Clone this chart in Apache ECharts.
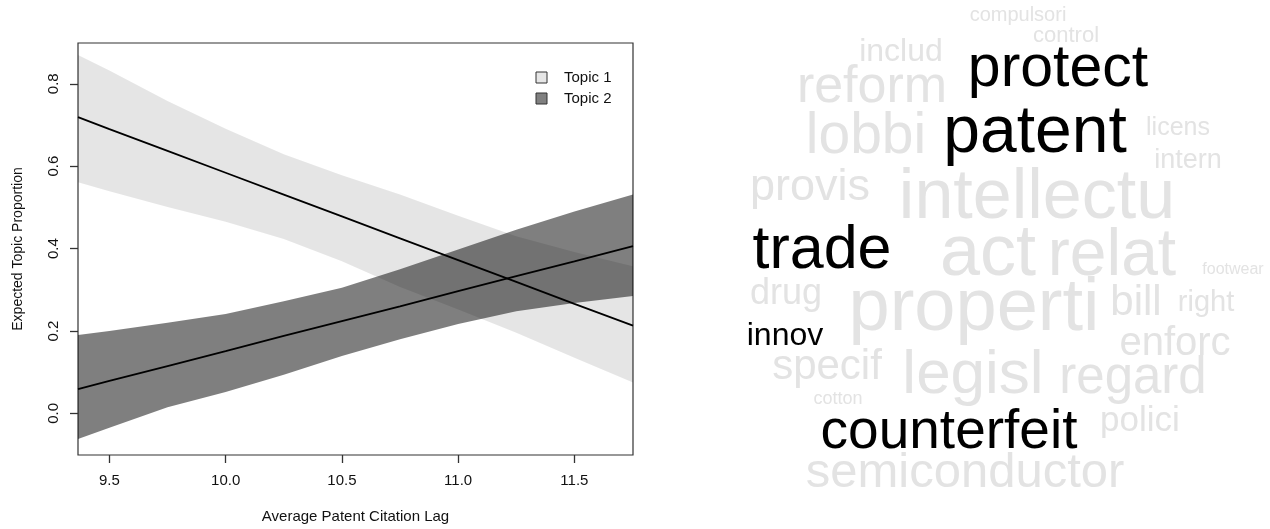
<!DOCTYPE html>
<html>
<head>
<meta charset="utf-8">
<title>Topic proportion by citation lag</title>
<script src="https://cdn.jsdelivr.net/npm/echarts@6/dist/echarts.min.js"></script>
<style>
  html, body { margin: 0; padding: 0; background: #ffffff; }
  #chart { width: 1270px; height: 529px; }
</style>
</head>
<body>
<div id="chart"></div>
<script>
// ---- Estimated effect of citation lag on topic prevalence ----
const lagValues   = [9.365, 9.5, 9.75, 10.0, 10.25, 10.5, 10.75, 11.0, 11.25, 11.5, 11.752];

const topic1Mean  = [0.719, 0.690, 0.637, 0.584, 0.531, 0.478, 0.425, 0.372, 0.319, 0.266, 0.213];
const topic1Upper = [0.870, 0.832, 0.758, 0.691, 0.629, 0.578, 0.531, 0.480, 0.430, 0.392, 0.357];
const topic1Lower = [0.561, 0.539, 0.501, 0.465, 0.423, 0.369, 0.307, 0.252, 0.196, 0.135, 0.075];

const topic2Mean  = [0.059, 0.079, 0.115, 0.151, 0.188, 0.224, 0.260, 0.297, 0.333, 0.369, 0.406];
const topic2Upper = [0.190, 0.200, 0.220, 0.241, 0.272, 0.305, 0.350, 0.398, 0.446, 0.490, 0.531];
const topic2Lower = [-0.062, -0.035, 0.015, 0.052, 0.094, 0.139, 0.180, 0.217, 0.248, 0.268, 0.285];

const xTicks = [9.5, 10.0, 10.5, 11.0, 11.5];
const yTicks = [0.0, 0.2, 0.4, 0.6, 0.8];
const topicNames = ['Topic 1', 'Topic 2'];

// ---- Word cloud: stems and relative frequencies ----
const cloudWords = ['compulsori', 'control', 'includ', 'protect', 'reform', 'lobbi', 'patent',
  'licens', 'intern', 'provis', 'intellectu', 'trade', 'act', 'relat', 'footwear', 'drug',
  'properti', 'bill', 'right', 'innov', 'enforc', 'specif', 'legisl', 'regard', 'cotton',
  'counterfeit', 'polici', 'semiconductor'];
const cloudWeight = [0.27, 0.30, 0.43, 0.80, 0.70, 0.77, 0.89,
  0.34, 0.36, 0.61, 0.95, 0.82, 0.97, 0.89, 0.22, 0.49,
  1.00, 0.57, 0.39, 0.43, 0.54, 0.57, 0.84, 0.69, 0.24,
  0.74, 0.47, 0.66];
const cloudHighlighted = ['protect', 'patent', 'trade', 'innov', 'counterfeit'];

// Placement of each word in the cloud: [centre x, baseline y] in pixels
const cloudSpot = [
  [1018, 22], [1066, 44], [901, 63], [1058, 90], [872, 106], [866, 157], [1035, 157],
  [1178, 137], [1188, 170], [810, 203], [1037, 223], [822, 272], [988, 280], [1112, 280],
  [1233, 275], [786, 307], [974, 335], [1136, 318], [1206, 313], [785, 347], [1175, 358],
  [827, 382], [973, 397], [1133, 397], [838, 405], [949, 452], [1140, 433], [965, 490]
];

const FONT = "'Liberation Sans', Arial, Helvetica, sans-serif";
const MAX_WORD_PX = 74;
const BAND_FILL = ['rgba(0,0,0,0.10)', 'rgba(0,0,0,0.50)'];
const LEGEND_FILL = ['#e6e6e6', '#808080'];
const FRAME = '#333333';
const X_MIN = lagValues[0], X_MAX = lagValues[lagValues.length - 1];
const Y_MIN = -0.101, Y_MAX = 0.899;

const pairs = (ys) => lagValues.map((x, i) => [x, ys[i]]);

// Confidence band: polygon running along the upper bound and back along the lower bound
function bandSeries(name, lower, upper, fill) {
  return {
    name: name,
    type: 'custom',
    silent: true,
    clip: true,
    itemStyle: { color: LEGEND_FILL[topicNames.indexOf(name)] },
    data: [0],
    renderItem: (params, api) => {
      const top = upper.map((v, i) => api.coord([lagValues[i], v]));
      const bottom = lower.map((v, i) => api.coord([lagValues[i], v])).reverse();
      return {
        type: 'polygon',
        shape: { points: top.concat(bottom) },
        style: { fill: fill, stroke: null }
      };
    }
  };
}

function meanSeries(name, values) {
  return {
    name: name, type: 'line', data: pairs(values), symbol: 'none', silent: true,
    lineStyle: { color: '#000', width: 1.8 }, itemStyle: { color: '#000' }, z: 5
  };
}

const cloudGraphics = cloudWords.map((w, i) => {
  const fs = Math.round(cloudWeight[i] * MAX_WORD_PX);
  const [cx, base] = cloudSpot[i];
  return {
    type: 'text',
    x: cx,
    y: base - 0.3465 * fs,
    silent: true,
    style: {
      text: w,
      fontSize: fs,
      fontFamily: FONT,
      fill: cloudHighlighted.includes(w) ? '#000000' : '#e3e3e3',
      align: 'center',
      verticalAlign: 'middle',
      textAlign: 'center',
      textVerticalAlign: 'middle'
    }
  };
});

const chart = echarts.init(document.getElementById('chart'), null, { renderer: 'canvas' });

chart.setOption({
  animation: false,
  backgroundColor: '#ffffff',
  textStyle: { fontFamily: FONT },
  grid: {
    left: 78, top: 43, right: 637, bottom: 73,
    show: true, borderColor: FRAME, borderWidth: 1.2, backgroundColor: 'transparent'
  },
  legend: {
    orient: 'vertical',
    left: 535.5, top: 70,
    padding: 0,
    itemWidth: 11, itemHeight: 11, itemGap: 6,
    icon: 'rect',
    selectedMode: false,
    textStyle: { fontSize: 15, color: '#111', fontFamily: FONT, padding: [0, 0, 0, 12] },
    data: topicNames.map((n, i) => ({
      name: n,
      itemStyle: { color: LEGEND_FILL[i], borderColor: FRAME, borderWidth: 1 }
    }))
  },
  xAxis: {
    type: 'value',
    min: X_MIN, max: X_MAX,
    name: 'Average Patent Citation Lag',
    nameLocation: 'middle', nameGap: 54,
    nameTextStyle: { fontSize: 15, color: '#111', fontFamily: FONT },
    axisLine: { show: false, onZero: false },
    axisTick: { show: true, length: 8, customValues: xTicks,
      lineStyle: { color: FRAME, width: 1.3 } },
    axisLabel: { show: true, customValues: xTicks, margin: 18, fontSize: 15, color: '#111',
      fontFamily: FONT, formatter: (v) => v.toFixed(1) },
    splitLine: { show: false }
  },
  yAxis: {
    type: 'value',
    min: Y_MIN, max: Y_MAX,
    name: 'Expected Topic Proportion',
    nameLocation: 'middle', nameGap: 53, nameRotate: 90,
    nameTextStyle: { fontSize: 14, color: '#111', fontFamily: FONT },
    axisLine: { show: false, onZero: false },
    axisTick: { show: true, length: 8, customValues: yTicks,
      lineStyle: { color: FRAME, width: 1.3 } },
    axisLabel: { show: true, customValues: yTicks, rotate: 90, margin: 17, fontSize: 15,
      color: '#111', fontFamily: FONT, formatter: (v) => v.toFixed(1) },
    splitLine: { show: false }
  },
  series: [
    bandSeries(topicNames[0], topic1Lower, topic1Upper, BAND_FILL[0]),
    bandSeries(topicNames[1], topic2Lower, topic2Upper, BAND_FILL[1]),
    meanSeries(topicNames[0], topic1Mean),
    meanSeries(topicNames[1], topic2Mean)
  ],
  graphic: cloudGraphics
});
</script>
</body>
</html>
